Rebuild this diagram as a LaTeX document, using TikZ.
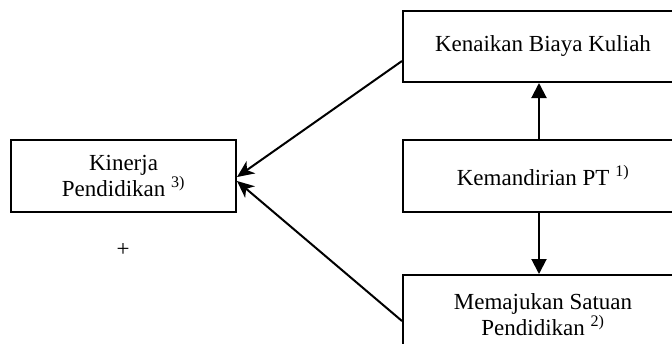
\documentclass[tikz,border=0pt]{standalone}
\usepackage{fontspec}
\setmainfont{Liberation Serif}
\usetikzlibrary{arrows.meta,calc}
\begin{document}
\begin{tikzpicture}[x=1pt,y=-1pt,
  txt/.style={font=\fontsize{23}{26}\selectfont},
  box/.style={txt,draw=black,line width=2pt,rectangle,inner sep=0pt,align=center},
  diag/.style={line width=2pt,-{Stealth[length=17pt,width=15pt,inset=5pt]}},
  vert/.style={line width=2pt,-{Triangle[length=15pt,width=15pt]}}]
\useasboundingbox (0,0) rectangle (672,343);
\clip (0,0) rectangle (672,343);
\node[box,minimum width=225pt,minimum height=72pt] (kin) at (123.5,176) {Kinerja\\Pendidikan \textsuperscript{3)}};
\node[box,minimum width=280pt,minimum height=71pt] (biaya) at (543,46.5) {Kenaikan Biaya Kuliah};
\node[box,minimum width=280pt,minimum height=72pt] (mandiri) at (543,176) {Kemandirian PT \textsuperscript{1)}};
\node[box,minimum width=280pt,minimum height=80pt] (maju) at (543,315) {Memajukan Satuan\\Pendidikan \textsuperscript{2)}};
\node[txt] (plus) at (123,250) {+};
\coordinate (s1) at ($(biaya.south west)+(0,-22)$);
\coordinate (s2) at ($(maju.north west)+(0,47)$);
\coordinate (t1) at ($(kin.east)+(0,1)$);
\coordinate (t2) at ($(kin.east)+(0,5)$);
\draw[diag] (s1) -- (t1);
\draw[diag] (s2) -- (t2);
\draw[vert] (mandiri.north -| 539,0) -- (biaya.south -| 539,0);
\draw[vert] (mandiri.south -| 539,0) -- (maju.north -| 539,0);
\end{tikzpicture}
\end{document}
